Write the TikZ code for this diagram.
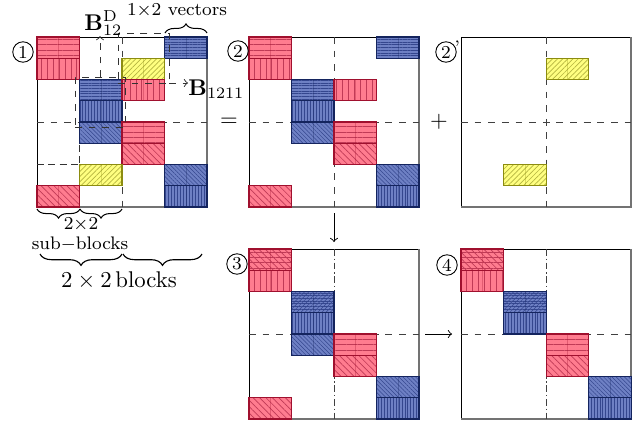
\documentclass[tikz,border=0pt]{standalone}
\usetikzlibrary{patterns.meta,decorations.pathreplacing,calc}
\definecolor{rfill}{HTML}{FF7C8F}
\definecolor{rdraw}{HTML}{A0102E}
\definecolor{rline}{HTML}{C03A56}
\definecolor{bfill}{HTML}{6E80C4}
\definecolor{bdraw}{HTML}{14245E}
\definecolor{bline}{HTML}{34468E}
\definecolor{yfill}{HTML}{FFFF80}
\definecolor{ydraw}{HTML}{8C8C10}
\definecolor{yline}{HTML}{B4B440}
\tikzset{
 rh/.style={pattern={Lines[angle=0,distance=2.4pt,line width=0.3pt]}},
 rv/.style={pattern={Lines[angle=90,distance=2.6pt,line width=0.3pt]}},
 rnw/.style={pattern={Lines[angle=-45,distance=2pt,line width=0.3pt]}},
 bh/.style={pattern={Lines[angle=0,distance=1.2pt,line width=0.22pt]}},
 bv/.style={pattern={Lines[angle=90,distance=1.3pt,line width=0.22pt]}},
 bnw/.style={pattern={Lines[angle=-45,distance=1.3pt,line width=0.22pt]}},
 bne/.style={pattern={Lines[angle=45,distance=1.3pt,line width=0.22pt]}},
 yne/.style={pattern={Lines[angle=45,distance=1.6pt,line width=0.3pt]}},
 circ/.style={draw,circle,inner sep=0pt,minimum size=9pt,font=\footnotesize},
 dbox/.style={draw,dashed,inner sep=0pt,outer sep=0pt,black!80,line width=0.4pt},
 midline/.style={dashed,black!75,line width=0.4pt},
 dotmid/.style={dash pattern=on 3pt off 1.2pt on 0.6pt off 1.2pt,black!75,line width=0.4pt},
 subline/.style={densely dashed,black!80,line width=0.35pt},
 brc/.style={decorate,decoration={brace,amplitude=4pt},line width=0.45pt},
 brcm/.style={decorate,decoration={brace,mirror,amplitude=4pt},line width=0.45pt},
 brcmbig/.style={decorate,decoration={brace,mirror,amplitude=5pt},line width=0.5pt},
 mscope/.style={x=18.7pt,y=-9.35pt},
}
\newcommand\blk[4]{%
 \fill[#3fill] (#1,#2) rectangle ++(1,1);
 \fill[#4,pattern color=#3line] (#1,#2) rectangle ++(1,1);
 \draw[#3draw,line width=0.15pt,opacity=0.3] (#1+0.5,#2) -- ++(0,1);
 \draw[#3draw,line width=0.45pt] (#1,#2) rectangle ++(1,1);}
\newcommand\blkk[5]{%
 \fill[#3fill] (#1,#2) rectangle ++(1,1);
 \fill[#4,pattern color=#3line] (#1,#2) rectangle ++(1,1);
 \fill[#5,pattern color=#3line] (#1,#2) rectangle ++(1,1);
 \draw[#3draw,line width=0.15pt,opacity=0.3] (#1+0.5,#2) -- ++(0,1);
 \draw[#3draw,line width=0.45pt] (#1,#2) rectangle ++(1,1);}
\newcommand\frmbase{%
 \draw[black,line width=0.4pt] (0,0) rectangle (4,8);
 \draw[black!55,line width=0.9pt] (0,8) -- (4,8) -- (4,0);
 \draw[midline] (0,4) -- (4,4);}
\newcommand\frm{\frmbase\draw[midline] (2,0) -- (2,8);}
\newcommand\frmd{\frmbase\draw[dotmid] (2,0) -- (2,8);}
\begin{document}
\begin{tikzpicture}[x=0.44pt,y=-0.44pt]
\useasboundingbox (0,0) rectangle (644,421);
% ---------- matrix 1
\begin{scope}[shift={(37,37)},mscope]
 \frm
 \draw[subline] (0,6) -- (2,6);
 \draw[subline] (1,4) -- (1,8);
 \blk{0}{0}{r}{rh} \blk{0}{1}{r}{rv} \blk{3}{0}{b}{bh} \blk{2}{1}{y}{yne}
 \blk{1}{2}{b}{bh} \blk{2}{2}{r}{rv} \blk{1}{3}{b}{bv} \blk{1}{4}{b}{bnw}
 \blk{2}{4}{r}{rh} \blk{2}{5}{r}{rnw} \blk{1}{6}{y}{yne} \blk{3}{6}{b}{bnw}
 \blk{3}{7}{b}{bv} \blk{0}{7}{r}{rnw}
\end{scope}
% ---------- matrix 2
\begin{scope}[shift={(249,37)},mscope]
 \frm
 \blk{0}{0}{r}{rh} \blk{0}{1}{r}{rv} \blk{3}{0}{b}{bh}
 \blk{1}{2}{b}{bh} \blk{2}{2}{r}{rv} \blk{1}{3}{b}{bv} \blk{1}{4}{b}{bnw}
 \blk{2}{4}{r}{rh} \blk{2}{5}{r}{rnw} \blk{3}{6}{b}{bnw}
 \blk{3}{7}{b}{bv} \blk{0}{7}{r}{rnw}
\end{scope}
% ---------- matrix 2'
\begin{scope}[shift={(461,37)},mscope]
 \frm
 \blk{2}{1}{y}{yne} \blk{1}{6}{y}{yne}
\end{scope}
% ---------- matrix 3
\begin{scope}[shift={(249,249)},mscope]
 \frmd
 \blkk{0}{0}{r}{rh}{rnw} \blk{0}{1}{r}{rv}
 \blkk{1}{2}{b}{bh}{bne} \blk{1}{3}{b}{bv} \blk{1}{4}{b}{bnw}
 \blk{2}{4}{r}{rh} \blk{2}{5}{r}{rnw} \blk{3}{6}{b}{bnw}
 \blk{3}{7}{b}{bv} \blk{0}{7}{r}{rnw}
\end{scope}
% ---------- matrix 4
\begin{scope}[shift={(461,249)},mscope]
 \frmd
 \blkk{0}{0}{r}{rh}{rnw} \blk{0}{1}{r}{rv}
 \blkk{1}{2}{b}{bh}{bne} \blk{1}{3}{b}{bv}
 \blk{2}{4}{r}{rh} \blk{2}{5}{r}{rnw} \blk{3}{6}{b}{bnw}
 \blk{3}{7}{b}{bv}
\end{scope}
% ---------- annotations on matrix 1
\node[dbox,minimum width=22.44pt,minimum height=22pt] (rA) at (143.5,58) {};
\node[dbox,minimum width=22pt,minimum height=22pt] (rB) at (100,102) {};
\node[anchor=base west,inner sep=0pt] (lBD) at (84,30) {$\mathbf{B}^{\mathrm{D}}_{12}$};
\node[anchor=base west,inner sep=0pt] (lB) at (188,95) {$\mathbf{B}_{1211}$};
\draw[dashed,black!80,->] (rB.north) -- (rB.north |- lBD.south);
\draw[dashed,black!80,->] (rA.south east) -- (rA.south east -| lB.west);
\node[anchor=base,inner sep=0pt,font=\footnotesize] (lvec) at (177,15) {$1{\times}2$ vectors};
\draw[brc] (165,33) -- (207,33);
% braces below
\draw[brcm] (37,209) -- (80,209);
\draw[brcm] (80,209) -- (122,209);
\node[anchor=base,inner sep=0pt,font=\footnotesize] (l22) at (81,229) {$2{\times}2$};
\node[anchor=base,inner sep=0pt,font=\footnotesize] (lsub) at (80,249) {sub$-$blocks};
\draw[brcmbig] (40,254) -- (122,254);
\draw[brcmbig] (123,254) -- (202,254);
\node[anchor=base,inner sep=0pt] (lblk) at (119,287) {$2\times2\,$blocks};
% ---------- circled numbers
\node[circ] (c1) at (23,52) {1};
\node[circ] (c2) at (238,51) {2};
\node[circ] (c2p) at (446,52) {2};
\node[anchor=west,inner sep=0pt,font=\footnotesize] (c2pp) at ([xshift=0.3pt,yshift=-1pt]c2p.north east) {'};
\node[circ] (c3) at (237,264) {3};
\node[circ] (c4) at (447,265) {4};
% ---------- operators
\node (eq) at (229,122) {$=$};
\node (pl) at (439,122) {$+$};
\coordinate (dA) at (334,213);
\coordinate (dB) at (334,242);
\draw[->,line width=0.4pt] (dA) -- (dB);
\coordinate (rA1) at (425,334);
\coordinate (rA2) at (452,334);
\draw[->,line width=0.4pt] (rA1) -- (rA2);
\end{tikzpicture}
\end{document}
